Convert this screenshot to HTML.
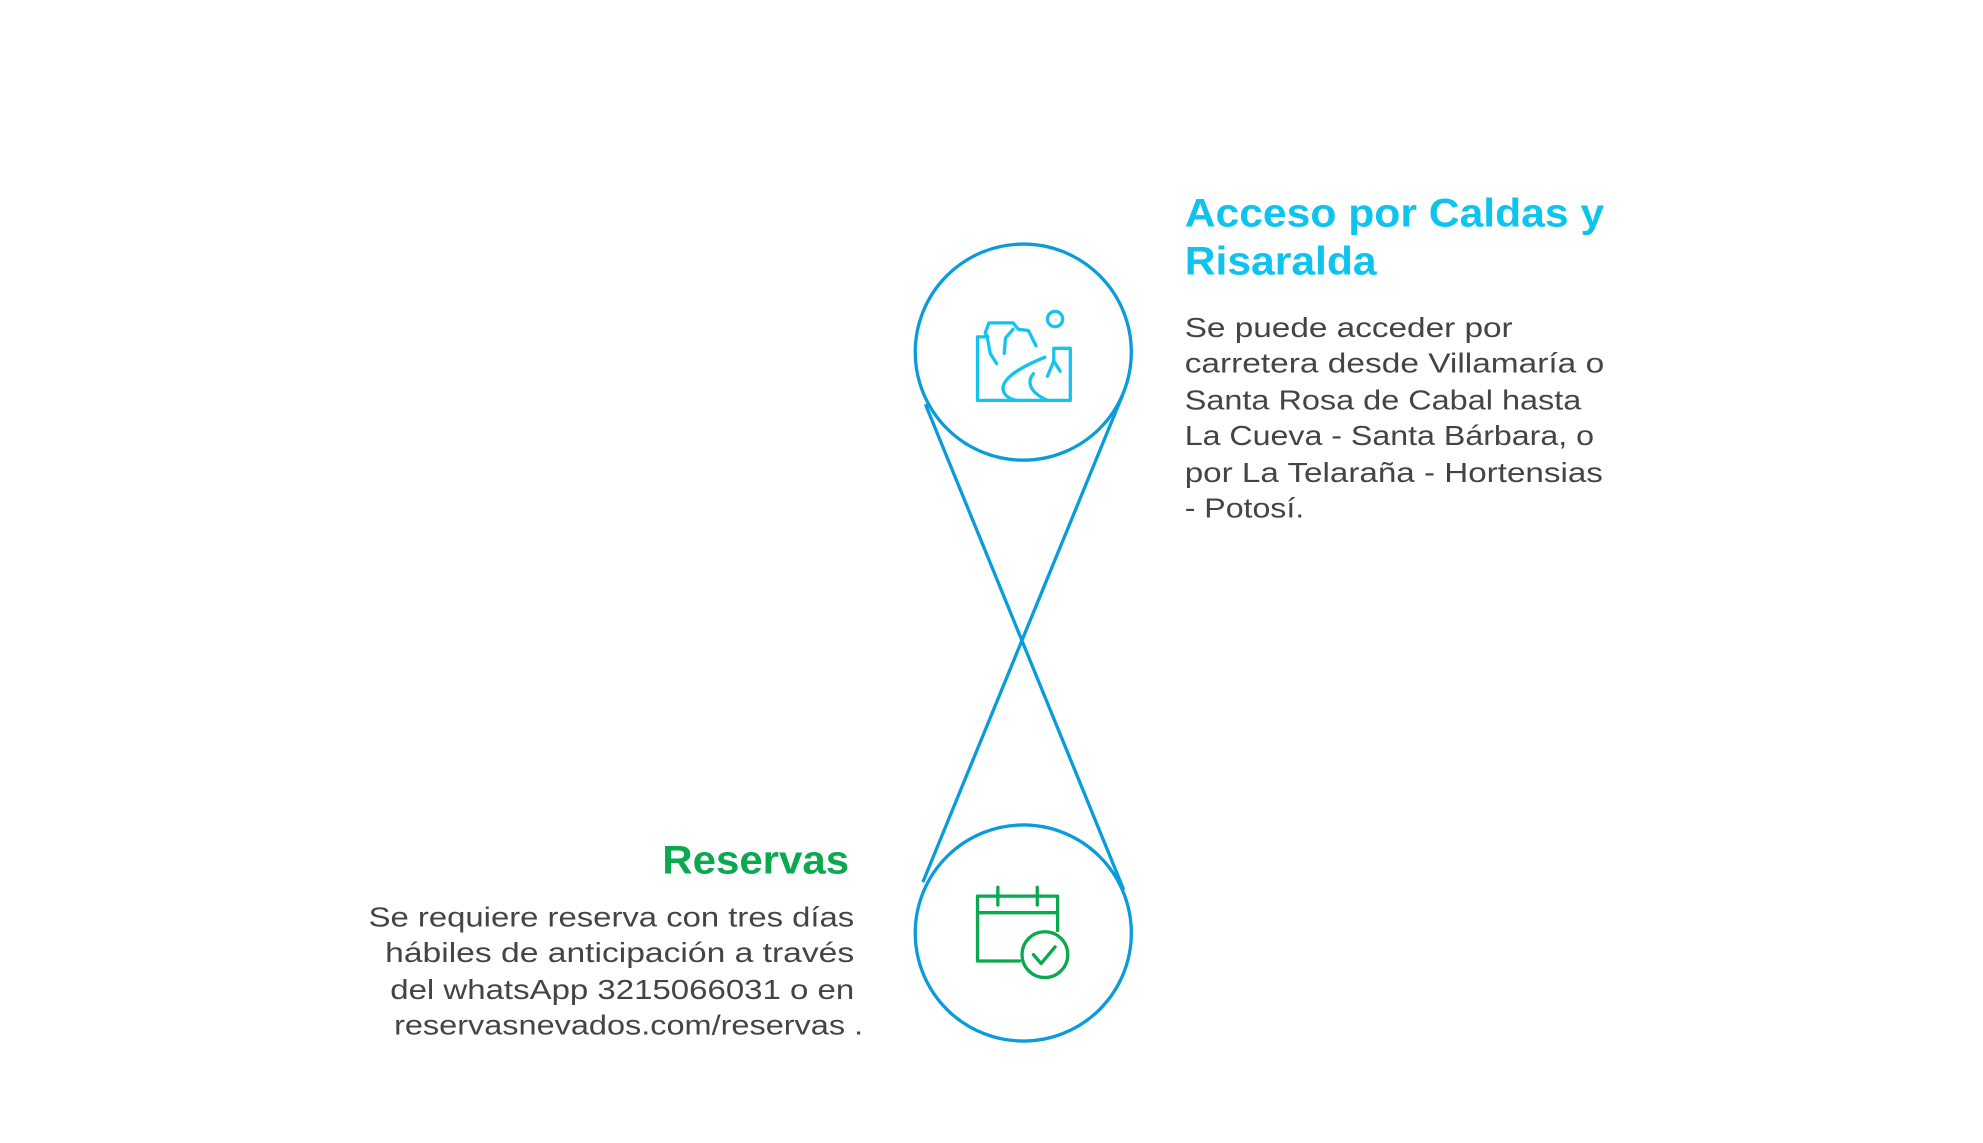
<!DOCTYPE html>
<html><head><meta charset="utf-8"><style>
html,body{margin:0;padding:0;background:#fff;width:1983px;height:1143px;overflow:hidden}
svg{display:block}
</style></head><body>
<svg width="1983" height="1143" viewBox="0 0 1560 899.2" xmlns="http://www.w3.org/2000/svg">
<g fill="none" stroke="#0a9bdc" stroke-width="2.6">
<circle cx="805" cy="277" r="85"/>
<circle cx="805" cy="734" r="85"/>
<line x1="728" y1="318" x2="884" y2="700"/>
<line x1="883" y1="311" x2="726" y2="694"/>
</g>
<g fill="none" stroke="#15c4ee" stroke-width="2.6" stroke-linejoin="round" stroke-linecap="round">
<path d="M777,265 L769,265 L769,315 L842,315 L842,274 L829,274 L829,285"/>
<path d="M777,265 L775,262 L778,254 L797,254 L801,259 L809,260 L815,272"/>
<path d="M797,259 L791,266 L790,278"/>
<path d="M777,267 L779,278 L784,286"/>
<path d="M822,281 C805,288 790,296 789,305 C789,310 793,314 800,315"/>
<path d="M813,294 C808,300 809,308 824,315"/>
<path d="M829,284 L824,296 M829,284 L834,292"/>
<circle cx="830" cy="251" r="6"/>
</g>
<g fill="none" stroke="#0aa84f" stroke-width="2.6" stroke-linejoin="round" stroke-linecap="round">
<path d="M802,756 L769,756 L769,705 L832,705 L832,732"/>
<line x1="769" y1="718" x2="832" y2="718"/>
<line x1="785" y1="698" x2="785" y2="712"/>
<line x1="816" y1="698" x2="816" y2="712"/>
<circle cx="822" cy="751" r="18"/>
<path d="M813,751 L819,758 L830,745"/>
</g>
<g font-family="Liberation Sans, sans-serif">
<g fill="#0ec3ee" font-weight="bold" font-size="31">
<text x="932" y="178" textLength="330" lengthAdjust="spacingAndGlyphs">Acceso por Caldas y</text>
<text x="932" y="216" textLength="151" lengthAdjust="spacingAndGlyphs">Risaralda</text>
</g>
<g fill="#444" font-size="22">
<text x="932" y="265" textLength="258" lengthAdjust="spacingAndGlyphs">Se puede acceder por</text>
<text x="932" y="293" textLength="330" lengthAdjust="spacingAndGlyphs">carretera desde Villamaría o</text>
<text x="932" y="322" textLength="312" lengthAdjust="spacingAndGlyphs">Santa Rosa de Cabal hasta</text>
<text x="932" y="350" textLength="322" lengthAdjust="spacingAndGlyphs">La Cueva - Santa Bárbara, o</text>
<text x="932" y="379" textLength="329" lengthAdjust="spacingAndGlyphs">por La Telaraña - Hortensias</text>
<text x="932" y="407" textLength="94" lengthAdjust="spacingAndGlyphs">- Potosí.</text>
</g>
<text x="521" y="687" fill="#0aa84f" font-weight="bold" font-size="31" textLength="147" lengthAdjust="spacingAndGlyphs">Reservas</text>
<g fill="#444" font-size="22">
<text x="290" y="729" textLength="382" lengthAdjust="spacingAndGlyphs">Se requiere reserva con tres días</text>
<text x="303" y="757" textLength="369" lengthAdjust="spacingAndGlyphs">hábiles de anticipación a través</text>
<text x="307" y="786" textLength="365" lengthAdjust="spacingAndGlyphs">del  whatsApp 3215066031 o en</text>
<text x="310" y="814" textLength="369" lengthAdjust="spacingAndGlyphs">reservasnevados.com/reservas .</text>
</g>
</g>
</svg>
</body></html>
